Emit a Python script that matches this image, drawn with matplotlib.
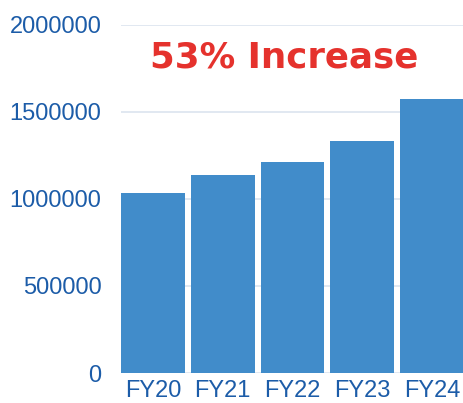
import matplotlib.pyplot as plt

years = ["FY20", "FY21", "FY22", "FY23", "FY24"]
totals = [1033000, 1140000, 1211000, 1332000, 1577000]
yticks = [0, 500000, 1000000, 1500000, 2000000]

bar_color = "#418cca"
label_color = "#1c5ca8"

fig = plt.figure(figsize=(4.64, 4.03), dpi=100)
ax = fig.add_axes([121 / 464, 30 / 403, 343 / 464, 348 / 403])

ax.bar(range(len(years)), totals, width=0.914, color=bar_color, zorder=2)

ax.set_xlim(-0.457, len(years) - 0.543)
ax.set_ylim(0, 2000000)
ax.set_yticks(yticks)
ax.set_yticklabels([str(v) for v in yticks])
ax.set_xticks(range(len(years)))
ax.set_xticklabels(years)

ax.grid(axis="y", color="#dbe4ef", linewidth=1.2, zorder=0)
for s in ax.spines.values():
    s.set_visible(False)
ax.tick_params(axis="both", length=0, labelsize=17, labelcolor=label_color,
               labelfontfamily="Liberation Sans")
ax.tick_params(axis="y", pad=14)
ax.tick_params(axis="x", pad=5)

fig.text(284 / 464, 1 - 57 / 403, "53% Increase", color="#e5322d",
         fontsize=25.7, fontweight="bold", family="DejaVu Sans",
         ha="center", va="center")

fig.savefig("out.png", dpi=100)
